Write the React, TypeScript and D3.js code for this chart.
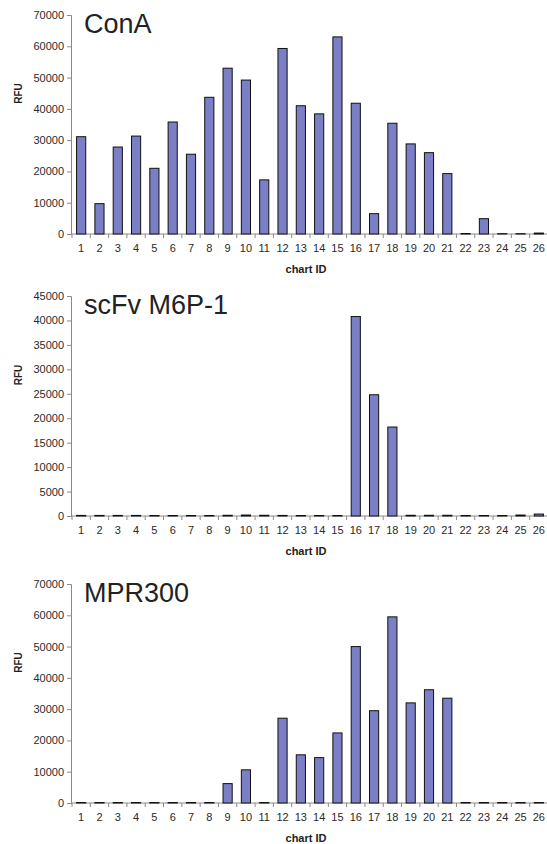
import React, { useEffect, useRef } from 'react';
import * as d3 from 'd3';

// chart IDs on the x axis
const chartIds = d3.range(1, 27).map(String);

// RFU values
const conA = [31100, 9700, 27800, 31300, 21000, 35800, 25500, 43700, 53000, 49200, 17300, 59300, 41000, 38400, 63000, 41800, 6500, 35400, 28800, 26000, 19300, 150, 4900, 100, 100, 300];
const scFvM6P1 = [120, 120, 120, 120, 100, 100, 100, 100, 150, 200, 150, 120, 100, 100, 100, 40800, 24800, 18200, 150, 150, 150, 100, 100, 100, 200, 400];
const mpr300 = [150, 150, 150, 150, 150, 150, 150, 150, 6200, 10600, 150, 27100, 15400, 14500, 22400, 50000, 29500, 59500, 32000, 36200, 33500, 150, 150, 150, 150, 150];

const panelTitles = ['ConA', 'scFv M6P-1', 'MPR300'];
const panelMax = [70000, 45000, 70000];
const panelStep = [10000, 5000, 10000];

const W = 547;
const H = 844;
const left = 72;
const right = 548;
const tops = [15, 296, 584];
const bottoms = [234, 516, 803];

const App = () => {
  const ref = useRef<SVGSVGElement>(null);

  useEffect(() => {
    const svg = d3.select(ref.current);
    svg.selectAll('*').remove();

    const x = d3.scaleBand().domain(chartIds).range([left, right]);
    const series = [conA, scFvM6P1, mpr300];

    series.forEach((vals, p) => {
      const y = d3.scaleLinear().domain([0, panelMax[p]]).range([bottoms[p], tops[p]]);
      const g = svg.append('g');

      // y axis
      const yAxis = d3.axisLeft(y)
        .tickValues(d3.range(0, panelMax[p] + 1, panelStep[p]))
        .tickSize(4)
        .tickPadding(3)
        .tickFormat(d3.format('d'));
      const ya = g.append('g').attr('transform', `translate(${left - 1},0)`).call(yAxis);
      ya.select('.domain').attr('stroke', '#8a8a8a');
      ya.selectAll('line').attr('stroke', '#8a8a8a');
      ya.selectAll('text')
        .attr('font-family', 'Liberation Sans, Arial, sans-serif')
        .attr('font-size', 11)
        .attr('fill', '#2a2a2a');

      // x axis line and ticks between categories
      g.append('line')
        .attr('x1', left - 1).attr('x2', right)
        .attr('y1', bottoms[p]).attr('y2', bottoms[p])
        .attr('stroke', '#8a8a8a');
      g.selectAll('.xt')
        .data(d3.range(0, chartIds.length + 1))
        .enter()
        .append('line')
        .attr('x1', (i) => left + i * x.step())
        .attr('x2', (i) => left + i * x.step())
        .attr('y1', bottoms[p])
        .attr('y2', bottoms[p] + 4)
        .attr('stroke', '#8a8a8a');
      g.selectAll('.xl')
        .data(chartIds)
        .enter()
        .append('text')
        .attr('x', (d) => (x(d) as number) + x.bandwidth() / 2)
        .attr('y', bottoms[p] + 18)
        .attr('text-anchor', 'middle')
        .attr('font-family', 'Liberation Sans, Arial, sans-serif')
        .attr('font-size', 11)
        .attr('fill', '#2a2a2a')
        .text((d) => d);

      // bars
      const bw = x.bandwidth() * 0.5;
      g.selectAll('rect')
        .data(vals)
        .enter()
        .append('rect')
        .attr('x', (d, i) => (x(chartIds[i]) as number) + (x.bandwidth() - bw) / 2)
        .attr('y', (d) => y(d))
        .attr('width', bw)
        .attr('height', (d) => bottoms[p] - y(d))
        .attr('fill', '#7b7fc6')
        .attr('stroke', '#111')
        .attr('stroke-width', 1);

      // title
      g.append('text')
        .attr('x', 84)
        .attr('y', tops[p] + 18)
        .attr('font-family', 'Liberation Sans, Arial, sans-serif')
        .attr('font-size', 27)
        .attr('fill', '#222')
        .text(panelTitles[p]);

      // axis titles
      g.append('text')
        .attr('transform', `translate(22,${(tops[p] + bottoms[p]) / 2 - 31}) rotate(-90)`)
        .attr('text-anchor', 'middle')
        .attr('font-family', 'Liberation Sans, Arial, sans-serif')
        .attr('font-size', 10)
        .attr('font-weight', 'bold')
        .attr('fill', '#222')
        .text('RFU');
      g.append('text')
        .attr('x', 306)
        .attr('y', bottoms[p] + 39)
        .attr('text-anchor', 'middle')
        .attr('font-family', 'Liberation Sans, Arial, sans-serif')
        .attr('font-size', 11)
        .attr('font-weight', 'bold')
        .attr('fill', '#222')
        .text('chart ID');
    });
  }, []);

  return (
    <svg
      ref={ref}
      width={W}
      height={H}
      style={{ position: 'absolute', left: 0, top: 0, background: '#fff' }}
    />
  );
};

export default App;
